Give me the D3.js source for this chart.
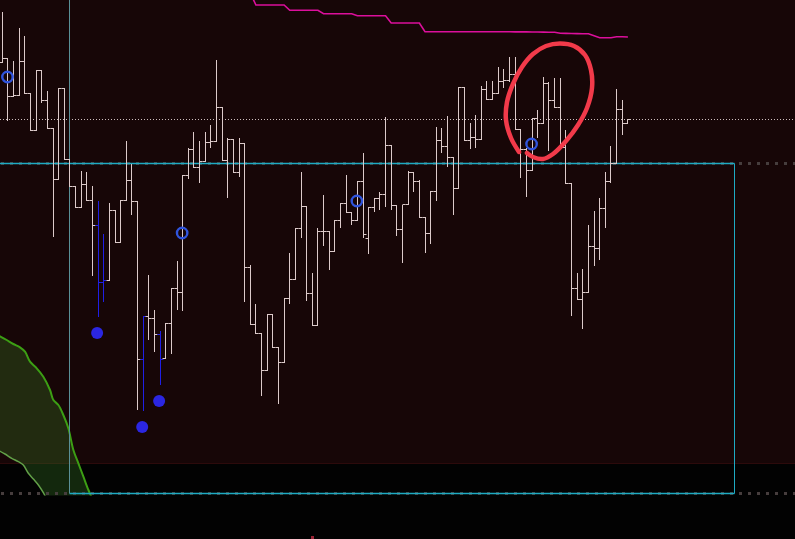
<!DOCTYPE html>
<html>
<head>
<meta charset="utf-8">
<script src="https://cdn.jsdelivr.net/npm/d3@7"></script>
<style>
  html, body { margin: 0; padding: 0; background: #020202; }
  svg { display: block; }
</style>
</head>
<body>
<svg id="chart" width="795" height="539"></svg>
<script>
// OHLC bars, one per session
const opens = [
  2537.7, 2541.7, 2503.7, 2504.7, 2538.7, 2506.7, 2469.7, 2529.7, 2499.7, 2471.7,
  2420.7, 2511.7, 2440.7, 2413.7, 2392.7, 2415.7, 2399.7, 2374.7, 2317.7, 2319.7,
  2389.7, 2357.7, 2399.7, 2419.7, 2398.7, 2240.7, 2283.7, 2281.7, 2265.7, 2241.7,
  2276.7, 2311.7, 2307.7, 2425, 2451, 2432.7, 2438.7, 2457.7, 2458.7, 2492.7,
  2439.7, 2460.7, 2427.7, 2456.7, 2332.7, 2275.7, 2266.7, 2229.7, 2285.7, 2252.7,
  2237.7, 2301.7, 2320.7, 2371.7, 2393.7, 2306.7, 2274.7, 2368.7, 2368.7, 2348.7,
  2379.7, 2396.7, 2387.7, 2379.7, 2418.7, 2361.7, 2392.7, 2401.7, 2405.7, 2454.7,
  2394.7, 2370.7, 2395.7, 2427.7, 2418.7, 2382.7, 2366.7, 2408.7, 2459.7, 2453.7,
  2442.7, 2411.7, 2512.7, 2459.7, 2462.7, 2460.7, 2510.7, 2500.7, 2506.7, 2518.7,
  2519.7, 2525.7, 2470.7, 2450.7, 2429.7, 2481.7, 2476.7, 2516.7, 2499.7, 2492.7,
  2452.7, 2416.7, 2311.7, 2300.7, 2307.7, 2353.7, 2351.7, 2391.7, 2418.7, 2436.7,
  2490.7, 2476.7
];
const highs = [
  2587, 2541.7, 2538.7, 2571.7, 2564, 2506.7, 2529.7, 2529.7, 2508, 2471.7,
  2511.7, 2511.7, 2440.7, 2413.7, 2428.7, 2427.7, 2413.7, 2398.7, 2365.7, 2396.7,
  2389.7, 2399.7, 2458.7, 2435.7, 2398.7, 2283.7, 2324.7, 2289.7, 2268.7, 2276.7,
  2311.7, 2338.7, 2425, 2451.7, 2467.7, 2458.7, 2467.7, 2474.7, 2539, 2492.7,
  2461.7, 2460.7, 2461.7, 2456.7, 2334.7, 2295.7, 2266.7, 2285.7, 2285.7, 2252.7,
  2301.7, 2346.7, 2371.7, 2427.7, 2393.7, 2326.7, 2371.7, 2404.7, 2368.7, 2379.7,
  2396.7, 2424.7, 2387.7, 2418.7, 2446.7, 2392.7, 2401.7, 2407.7, 2482.7, 2454.7,
  2394.7, 2394.7, 2428.7, 2427.7, 2419.7, 2382.7, 2408.7, 2472.7, 2471.7, 2483.7,
  2442.7, 2512.7, 2512.7, 2476.7, 2484.7, 2513.7, 2518.7, 2518.7, 2532.7, 2530.7,
  2542.7, 2542.7, 2470.7, 2451.7, 2481.7, 2489.7, 2522.7, 2517.7, 2521.7, 2521.7,
  2469.7, 2416.7, 2326.7, 2330.7, 2374.7, 2388.7, 2401.7, 2427.7, 2453.7, 2510.7,
  2499.7, 2480.7
];
const lows = [
  2537.7, 2480, 2503.7, 2504.7, 2506.7, 2469.7, 2469.7, 2497.7, 2471.7, 2363.3,
  2420.7, 2440.7, 2413.7, 2392.7, 2392.7, 2399.7, 2325, 2283.7, 2298.3, 2319.7,
  2357.7, 2357.7, 2399.7, 2385.7, 2190.7, 2189.7, 2260.7, 2248.7, 2215.7, 2241.7,
  2246.7, 2290.7, 2289.3, 2421.7, 2432.7, 2417.7, 2438.7, 2452.3, 2458.7, 2439.7,
  2402.7, 2427.7, 2423.7, 2298.7, 2275.7, 2266.7, 2204.7, 2229.7, 2252.7, 2196.7,
  2237.7, 2296.7, 2320.7, 2362.7, 2299.7, 2274.7, 2274.7, 2354.3, 2330.7, 2348.7,
  2372.7, 2387.7, 2375.7, 2379.7, 2362.7, 2346.7, 2388.7, 2390.7, 2393.7, 2390.7,
  2364.7, 2337.7, 2395.7, 2408.7, 2382.7, 2347.7, 2356.7, 2399.7, 2447.7, 2433.7,
  2385.7, 2411.7, 2459.7, 2451.7, 2452.7, 2460.7, 2500.7, 2500.7, 2506.7, 2512.7,
  2518.7, 2470.7, 2422.7, 2403.3, 2429.7, 2462.7, 2476.7, 2449.7, 2492.7, 2452.7,
  2416.7, 2284.7, 2300.7, 2271.7, 2307.7, 2334.7, 2340.7, 2372.7, 2417.7, 2436.7,
  2465.7, 2476.7
];
const closes = [
  2541.7, 2503.7, 2504.7, 2538.7, 2506.7, 2469.7, 2529.7, 2499.7, 2471.7, 2420.7,
  2511.7, 2440.7, 2413.7, 2392.7, 2415.7, 2399.7, 2374.7, 2317.7, 2319.7, 2389.7,
  2357.7, 2399.7, 2419.7, 2398.7, 2240.7, 2283.7, 2281.7, 2265.7, 2240.7, 2276.7,
  2311.7, 2307.7, 2425, 2451, 2432.7, 2438.7, 2457.7, 2458.7, 2492.7, 2439.7,
  2460.7, 2427.7, 2456.7, 2332.7, 2275.7, 2266.7, 2229.7, 2285.7, 2252.7, 2237.7,
  2301.7, 2320.7, 2371.7, 2393.7, 2306.7, 2274.7, 2368.7, 2368.7, 2348.7, 2379.7,
  2396.7, 2387.7, 2379.7, 2418.7, 2365.7, 2392.7, 2401.7, 2405.7, 2454.7, 2394.7,
  2370.7, 2395.7, 2427.7, 2418.7, 2382.7, 2366.7, 2408.7, 2459.7, 2453.7, 2442.7,
  2411.7, 2512.7, 2459.7, 2462.7, 2460.7, 2510.7, 2500.7, 2506.7, 2518.7, 2519.7,
  2525.7, 2470.7, 2450.7, 2429.7, 2481.7, 2476.7, 2516.7, 2499.7, 2492.7, 2452.7,
  2416.7, 2311.7, 2300.7, 2307.7, 2353.7, 2351.7, 2391.7, 2418.7, 2436.7, 2490.7,
  2476.7, 2480.7
];

// bars painted blue by the indicator
const blueBars = [17, 18, 25, 28];

// filled buy dots and hollow signal rings (bar index, price)
const buyDots = [[17, 2267], [25, 2173], [28, 2199]];
const signalRings = [[1, 2523], [32, 2367], [63, 2399], [94, 2456]];

// trailing stop (magenta), starts at bar 44
const stopStart = 44;
const stopValues = [
  2607,
  2595, 2595, 2595, 2595, 2595, 2595,
  2589.7, 2589.7, 2589.7, 2589.7, 2589.7, 2589.7,
  2586.3, 2586.3, 2586.3, 2586.3, 2586.3, 2586.3,
  2584.3, 2584.3, 2584.3, 2584.3, 2584.3, 2584.3,
  2577, 2577, 2577, 2577, 2577, 2577,
  2568.3, 2568.3, 2568.3, 2568.3, 2568.3, 2568.3, 2568.3, 2568.3, 2568.3, 2568.3, 2568.3,
  2568.3, 2568.3, 2568.2, 2568.2, 2568.2, 2568.1, 2568.1, 2568.1, 2568, 2568, 2567.9, 2567.8,
  2567.7,
  2566.7, 2566.6, 2566.5, 2566.4, 2566.3, 2566.3,
  2564.3,
  2562.3, 2562.3, 2562.3,
  2563.3, 2563.2, 2563
];

// horizontal levels and the range box
const levelDotted = 2480.5;
const levelCyan = 2436.5;
const boxBottom = 2106.5;
const boxStart = 12;
const boxEnd = 130;
const paneBottom = 2137;

// green cloud edges (bar index, price)
const cloudOuter = [
  [-0.5, 2264], [0.78, 2260], [1.95, 2256], [3.14, 2252.7], [4.03, 2248.3], [4.92, 2238.3],
  [6.11, 2231.7], [7.28, 2223.3], [8.47, 2210], [9.06, 2200], [9.95, 2195], [10.83, 2185],
  [11.72, 2171.7], [12.61, 2150], [13.5, 2136.7], [14.39, 2123.3], [15.28, 2110], [15.84, 2103]
];
const cloudInner = [
  [-0.5, 2149], [0.48, 2146], [1.67, 2141.7], [2.84, 2138.3], [3.73, 2135], [4.62, 2126.7],
  [5.51, 2121], [6.4, 2115], [7.28, 2107.3], [7.76, 2102]
];

// hand drawn red loop (bar index, price)
const annotation = [
  [91.68, 2448], [90.26, 2462], [89.37, 2480], [89.55, 2498], [90.61, 2516], [92.21, 2533],
  [94.16, 2546], [96.47, 2554], [98.95, 2556.5], [101.44, 2554], [103.39, 2545], [104.45, 2530],
  [104.63, 2512], [103.74, 2492], [102.15, 2475], [100.02, 2459], [97.71, 2446], [95.93, 2441],
  [94.16, 2443], [93.09, 2447]
];
const nowMarker = 55;

const svg = d3.select('#chart');
const width = 795, height = 539;

const x = d3.scaleLinear().domain([0, 111]).range([2.3, 627.9]);
const y = d3.scaleLinear().domain([2061, 2600]).range([height, 0]);
const px = v => Math.floor(v) + 0.5;

// pane background
svg.append('rect')
  .attr('width', width).attr('height', y(paneBottom))
  .attr('fill', '#170607');
svg.append('line')
  .attr('x1', 0).attr('x2', width)
  .attr('y1', px(y(paneBottom))).attr('y2', px(y(paneBottom)))
  .attr('stroke', '#2c0a0b');

// green cloud
svg.append('clipPath').attr('id', 'cloud-clip')
  .append('rect').attr('width', width).attr('height', y(boxBottom) + 2);

const line = d3.line().x(d => x(d[0])).y(d => y(d[1])).curve(d3.curveCatmullRom);
const cloud = svg.append('g').attr('clip-path', 'url(#cloud-clip)');
cloud.append('path')
  .attr('d', line(cloudOuter.concat(cloudInner.slice().reverse())) + 'Z')
  .attr('fill', 'rgba(60,130,40,0.3)');
cloud.append('path')
  .attr('d', line(cloudOuter))
  .attr('fill', 'none').attr('stroke', '#3c9e14').attr('stroke-width', 2);
cloud.append('path')
  .attr('d', line(cloudInner))
  .attr('fill', 'none').attr('stroke', '#62a048').attr('stroke-width', 1.5);

// levels
const levels = svg.append('g');
levels.append('line')
  .attr('x1', 0).attr('x2', width)
  .attr('y1', px(y(levelDotted))).attr('y2', px(y(levelDotted)))
  .attr('stroke', '#cbbcbc').attr('stroke-dasharray', '1,2');

[levelCyan, boxBottom].forEach(v => {
  levels.append('line')
    .attr('x1', 1).attr('x2', width)
    .attr('y1', px(y(v))).attr('y2', px(y(v)))
    .attr('stroke', '#463d3d').attr('stroke-width', 3)
    .attr('stroke-dasharray', '3,6');
});

const bx0 = px(x(boxStart)), bx1 = px(x(boxEnd));
const cyan = '#1eaac2';
levels.append('line')
  .attr('x1', 0).attr('x2', bx1)
  .attr('y1', px(y(levelCyan))).attr('y2', px(y(levelCyan)))
  .attr('stroke', cyan).attr('stroke-width', 1.3);
levels.append('line')
  .attr('x1', bx0).attr('x2', bx1)
  .attr('y1', px(y(boxBottom))).attr('y2', px(y(boxBottom)))
  .attr('stroke', cyan).attr('stroke-width', 1.3);
levels.append('line')
  .attr('x1', bx1).attr('x2', bx1)
  .attr('y1', px(y(levelCyan))).attr('y2', px(y(boxBottom)))
  .attr('stroke', cyan);
levels.append('line')
  .attr('x1', bx0).attr('x2', bx0)
  .attr('y1', 0).attr('y2', px(y(boxBottom)))
  .attr('stroke', '#5a9097');

// OHLC bars
const bars = opens.map((o, i) => ({ i, o, h: highs[i], l: lows[i], c: closes[i] }));
svg.append('g').selectAll('path')
  .data(bars)
  .join('path')
  .attr('d', d => {
    const cx = px(x(d.i));
    return `M${cx},${px(y(d.h)) - 0.5}V${px(y(d.l)) + 0.5}` +
      `M${cx - 3},${px(y(d.o))}H${cx}` +
      `M${cx},${px(y(d.c))}H${cx + 3}`;
  })
  .attr('fill', 'none')
  .attr('stroke', d => blueBars.includes(d.i) ? '#1f1fe6' : '#dccaca')
  .attr('stroke-width', 1);

// signal markers
svg.append('g').selectAll('circle')
  .data(buyDots)
  .join('circle')
  .attr('cx', d => x(d[0]) - 1)
  .attr('cy', d => y(d[1]))
  .attr('r', 6)
  .attr('fill', '#2b26e2');

svg.append('g').selectAll('circle')
  .data(signalRings)
  .join('circle')
  .attr('cx', d => x(d[0]) - 0.5)
  .attr('cy', d => y(d[1]))
  .attr('r', 5.2)
  .attr('fill', 'none')
  .attr('stroke', '#3054dc')
  .attr('stroke-width', 2.4);

// trailing stop
svg.append('path')
  .attr('d', d3.line().x((d, k) => x(stopStart + k)).y(d => y(d))(stopValues))
  .attr('fill', 'none')
  .attr('stroke', '#dc0f9c')
  .attr('stroke-width', 1.6);

// red hand drawn loop
svg.append('path')
  .attr('d', line(annotation))
  .attr('fill', 'none')
  .attr('stroke', '#f23a4a')
  .attr('stroke-width', 4.5)
  .attr('stroke-linecap', 'round')
  .attr('stroke-linejoin', 'round');

// current time tick on the bottom edge
svg.append('rect')
  .attr('x', Math.floor(x(nowMarker)) - 1).attr('y', height - 3)
  .attr('width', 3).attr('height', 3)
  .attr('fill', '#9b2335');
</script>
</body>
</html>
